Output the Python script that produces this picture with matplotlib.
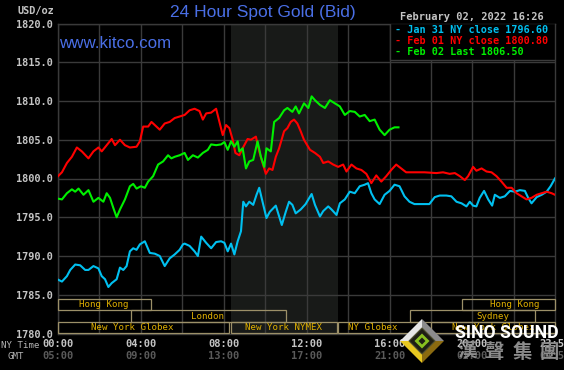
import matplotlib
matplotlib.use("Agg")
import matplotlib.pyplot as plt
from matplotlib.patches import Rectangle, Polygon
import matplotlib.transforms as mtrans

# ---------------- data (hours of NY time, USD/oz) ----------------
jan31_hours = [0.00, 0.19, 0.43, 0.59, 0.83, 1.07, 1.31, 1.47, 1.71, 1.95, 2.11, 2.27, 2.43, 2.59, 2.83,
               2.99, 3.15, 3.31, 3.47, 3.63, 3.79, 3.95, 4.19, 4.43, 4.67, 4.91, 5.15, 5.39, 5.63, 5.87,
               6.03, 6.11, 6.35, 6.59, 6.75, 6.91, 7.15, 7.39, 7.63, 7.87, 8.03, 8.19, 8.35, 8.51, 8.67,
               8.83, 8.94, 9.07, 9.23, 9.42, 9.58, 9.71, 9.87, 10.06, 10.22, 10.51, 10.80, 10.99, 11.15,
               11.31, 11.47, 11.71, 11.95, 12.08, 12.24, 12.40, 12.64, 12.80, 13.04, 13.20, 13.44, 13.60,
               13.84, 14.08, 14.32, 14.56, 14.80, 14.96, 15.12, 15.28, 15.52, 15.76, 16.00, 16.24, 16.48,
               16.72, 16.96, 17.20, 17.52, 17.92, 18.18, 18.42, 18.74, 18.98, 19.23, 19.47, 19.71, 19.87,
               20.03, 20.19, 20.35, 20.56, 20.76, 20.95, 21.08, 21.32, 21.56, 21.81, 22.05, 22.29, 22.53,
               22.69, 22.85, 23.10, 23.34, 23.58, 23.77, 23.98]
jan31_values = [1786.95, 1786.7, 1787.4, 1788.2, 1788.9, 1788.8, 1788.2, 1788.2, 1788.7, 1788.4, 1787.4,
                1787.0, 1786.0, 1786.5, 1787.0, 1788.5, 1788.2, 1788.7, 1790.6, 1791.0, 1790.8, 1791.5,
                1791.9, 1790.4, 1790.3, 1790.0, 1788.7, 1789.7, 1790.2, 1790.8, 1791.5, 1791.6, 1791.3,
                1790.6, 1790.0, 1792.5, 1791.7, 1791.0, 1791.8, 1791.9, 1791.7, 1790.6, 1791.6, 1790.2,
                1791.9, 1793.2, 1797.0, 1796.4, 1797.0, 1796.6, 1797.9, 1798.8, 1797.0, 1794.9, 1795.7,
                1796.5, 1794.0, 1795.7, 1797.0, 1796.6, 1795.5, 1796.0, 1796.7, 1797.3, 1798.0, 1796.6,
                1795.1, 1795.8, 1796.4, 1796.0, 1795.3, 1796.8, 1797.3, 1798.3, 1798.1, 1799.0, 1799.2,
                1799.4, 1798.1, 1797.3, 1796.7, 1797.9, 1798.4, 1799.2, 1799.0, 1797.7, 1797.0, 1796.7,
                1796.7, 1796.7, 1797.6, 1797.8, 1797.8, 1797.7, 1797.0, 1796.8, 1796.4, 1797.0, 1796.5,
                1796.4, 1797.5, 1798.4, 1797.3, 1796.5, 1797.9, 1797.5, 1797.7, 1798.4, 1798.3, 1798.5,
                1798.4, 1797.5, 1796.8, 1797.6, 1797.9, 1798.3, 1799.0, 1800.0]

feb01_hours = [0.00, 0.19, 0.43, 0.67, 0.91, 1.15, 1.47, 1.71, 1.95, 2.11, 2.35, 2.59, 2.75, 2.99, 3.23,
               3.47, 3.79, 3.95, 4.11, 4.35, 4.51, 4.67, 4.91, 5.15, 5.39, 5.63, 5.87, 6.11, 6.35, 6.59,
               6.83, 6.99, 7.15, 7.39, 7.63, 7.79, 7.95, 8.11, 8.27, 8.43, 8.56, 8.75, 8.91, 9.15, 9.31,
               9.55, 9.71, 9.87, 10.03, 10.19, 10.35, 10.51, 10.67, 10.91, 11.07, 11.23, 11.39, 11.55,
               11.71, 11.87, 12.16, 12.40, 12.64, 12.80, 13.04, 13.28, 13.52, 13.76, 13.92, 14.16, 14.40,
               14.64, 14.88, 15.12, 15.36, 15.60, 15.84, 16.08, 16.32, 16.56, 16.80, 17.20, 17.68, 18.26,
               18.58, 18.90, 19.15, 19.39, 19.63, 19.79, 20.03, 20.19, 20.44, 20.68, 20.92, 21.16, 21.40,
               21.65, 21.89, 22.13, 22.37, 22.61, 22.85, 23.10, 23.34, 23.58, 23.82, 23.98]
feb01_values = [1800.3, 1800.8, 1802.0, 1802.8, 1804.0, 1803.5, 1802.6, 1803.5, 1804.0, 1803.5, 1804.3,
                1805.1, 1804.3, 1805.0, 1804.3, 1804.0, 1804.1, 1804.8, 1806.7, 1806.7, 1807.3, 1806.9,
                1806.3, 1807.1, 1807.3, 1807.8, 1808.0, 1808.2, 1808.8, 1809.0, 1808.7, 1807.6, 1808.4,
                1808.5, 1809.0, 1807.3, 1805.6, 1806.9, 1806.5, 1805.0, 1803.3, 1803.0, 1803.9, 1805.1,
                1805.0, 1805.4, 1803.5, 1802.0, 1800.6, 1801.3, 1801.1, 1802.8, 1803.9, 1806.1, 1806.5,
                1807.3, 1807.6, 1807.1, 1806.1, 1805.0, 1803.7, 1803.3, 1802.8, 1802.0, 1802.2, 1801.8,
                1801.5, 1801.8, 1800.9, 1801.8, 1801.3, 1801.1, 1800.6, 1799.4, 1800.4, 1799.6, 1800.3,
                1801.1, 1801.8, 1801.3, 1800.8, 1800.8, 1800.8, 1800.7, 1800.8, 1800.6, 1800.7, 1800.3,
                1799.8, 1800.3, 1801.5, 1801.0, 1801.3, 1800.9, 1800.8, 1800.3, 1799.6, 1798.8, 1798.8,
                1798.1, 1797.7, 1797.3, 1797.5, 1797.9, 1798.1, 1798.3, 1798.1, 1797.9]

feb02_hours = [0.00, 0.19, 0.43, 0.67, 0.83, 0.99, 1.23, 1.47, 1.71, 1.95, 2.19, 2.35, 2.51, 2.67, 2.83,
               2.99, 3.23, 3.47, 3.63, 3.79, 4.00, 4.19, 4.35, 4.59, 4.83, 5.07, 5.31, 5.47, 5.63, 5.87,
               6.11, 6.27, 6.51, 6.75, 6.99, 7.23, 7.39, 7.63, 7.87, 8.03, 8.19, 8.35, 8.51, 8.67, 8.75,
               8.91, 9.07, 9.23, 9.42, 9.63, 9.79, 9.95, 10.06, 10.27, 10.43, 10.67, 10.91, 11.07, 11.31,
               11.47, 11.63, 11.87, 12.08, 12.24, 12.40, 12.64, 12.88, 13.12, 13.36, 13.60, 13.84, 14.08,
               14.32, 14.56, 14.80, 15.04, 15.28, 15.52, 15.76, 16.00, 16.24, 16.43]
feb02_values = [1797.4, 1797.3, 1798.1, 1798.6, 1798.3, 1798.7, 1797.9, 1798.5, 1797.0, 1797.5, 1797.0,
                1798.1, 1797.5, 1796.2, 1795.0, 1796.0, 1797.3, 1799.0, 1799.3, 1798.7, 1799.0, 1798.8,
                1799.6, 1800.3, 1801.8, 1802.2, 1803.0, 1802.6, 1802.8, 1803.0, 1803.3, 1802.4, 1803.0,
                1802.7, 1803.3, 1803.7, 1804.4, 1804.3, 1804.4, 1804.7, 1803.7, 1804.8, 1804.1, 1804.8,
                1803.5, 1803.9, 1801.3, 1802.2, 1802.4, 1804.8, 1802.8, 1801.5, 1803.9, 1803.5, 1807.3,
                1807.8, 1808.8, 1809.1, 1808.6, 1809.3, 1808.4, 1809.7, 1809.1, 1810.6, 1810.1, 1809.5,
                1809.1, 1810.1, 1809.7, 1809.3, 1808.2, 1808.7, 1808.6, 1808.0, 1808.2, 1807.4, 1807.6,
                1806.3, 1805.6, 1806.3, 1806.6, 1806.6]

legend_labels = ["- Jan 31 NY close 1796.60", "- Feb 01 NY close 1800.80", "- Feb 02 Last 1806.50"]

y_ticks = [1780, 1785, 1790, 1795, 1800, 1805, 1810, 1815, 1820]
ny_tick_hours = [0, 4, 8, 12, 16, 20, 23.983]
ny_tick_labels = ["00:00", "04:00", "08:00", "12:00", "16:00", "20:00", "23:59"]
gmt_tick_labels = ["05:00", "09:00", "13:00", "17:00", "21:00", "01:00", "04:59"]

nymex_start, nymex_end = 8.333, 13.5

session_names = ["Hong Kong", "Hong Kong", "London", "Sydney",
                 "New York Globex", "New York NYMEX", "NY Globex", "New York Globex"]
session_start = [0.0, 19.5, 3.5, 17.0, 0.0, 8.333, 13.5, 18.0]
session_end = [4.5, 23.983, 11.0, 23.0, 8.27, 13.48, 17.5, 23.983]
session_row = [0, 0, 1, 1, 2, 2, 2, 2]

# ---------------- styling ----------------
BG = "#000000"
GRID = "#3a3a3a"
CYAN = "#00c0f0"
RED = "#ff0000"
GREEN = "#00f000"
MONO = "DejaVu Sans Mono"

fig = plt.figure(figsize=(5.64, 3.70), dpi=100, facecolor=BG)
W, H = 564, 370
ax_l, ax_r, ax_t, ax_b = 58, 555, 23.5, 333.5
ax = fig.add_axes([ax_l / W, 1 - ax_b / H, (ax_r - ax_l) / W, (ax_b - ax_t) / H])
ax.set_facecolor(BG)
ax.set_xlim(0, 23.983)
ax.set_ylim(1780, 1820)

ax.axvspan(nymex_start, nymex_end, color="#181a18", zorder=0, lw=0)

ax.set_xticks([0, 2, 4, 6, 8, 10, 12, 14, 16, 18, 20, 22])
ax.set_xticklabels([])
ax.set_yticks(y_ticks)
ax.set_yticklabels([f"{v:.1f}" for v in y_ticks], fontfamily=MONO, fontweight="bold",
                   fontsize=7.4, color="#c4c4c4")
ax.tick_params(axis="both", length=0, pad=4)
ax.grid(True, color=GRID, lw=1.0, zorder=1)
ax.set_axisbelow(True)
for s in ax.spines.values():
    s.set_color(GRID)
    s.set_linewidth(1.0)

ax.plot(jan31_hours, jan31_values, color=CYAN, lw=1.5, zorder=3)
ax.plot(feb01_hours, feb01_values, color=RED, lw=1.5, zorder=4)
ax.plot(feb02_hours, feb02_values, color=GREEN, lw=1.5, zorder=5)

# session boxes
row_bounds = [(1783.0, 1784.45), (1781.5, 1783.0), (1780.05, 1781.5)]
text_hours = [2.2, 22.05, 7.2, 20.97, 3.6, 10.9, 15.2, 21.0]
for name, s0, s1, r, th in zip(session_names, session_start, session_end, session_row, text_hours):
    lo, hi = row_bounds[r]
    ax.add_patch(Rectangle((s0, lo), s1 - s0, hi - lo, fill=False, edgecolor="#9c9068",
                           lw=0.9, zorder=6, clip_on=False))
    ax.text(th, (lo + hi) / 2, name, color="#e0b000", fontsize=6.6, fontfamily=MONO,
            ha="center", va="center", zorder=7)

# legend box
ax.add_patch(Rectangle((0.6686, 0.883), 0.3314, 0.117, transform=ax.transAxes,
                       facecolor=BG, edgecolor=GRID, lw=1.0, zorder=8))

# x tick labels (two rows)
trans = mtrans.blended_transform_factory(ax.transData, fig.transFigure)
for h, l1, l2 in zip(ny_tick_hours, ny_tick_labels, gmt_tick_labels):
    ax.text(h, 1 - 343.7 / H, l1, transform=trans, ha="center", va="center", fontsize=7.5,
            fontfamily=MONO, fontweight="bold", color="#c4c4c4", clip_on=False)
    ax.text(h, 1 - 356.3 / H, l2, transform=trans, ha="center", va="center", fontsize=7.5,
            fontfamily=MONO, fontweight="bold", color="#5a5a5a", clip_on=False)

# ---------------- overlay in pixel coordinates ----------------
ov = fig.add_axes([0, 0, 1, 1], facecolor="none")
ov.set_xlim(0, W)
ov.set_ylim(H, 0)
ov.axis("off")

ov.text(263, 13, "24 Hour Spot Gold (Bid)", color="#4a6fe6", fontsize=12.5,
        fontfamily="Liberation Sans", ha="center", va="center")
ov.text(59, 43.5, "www.kitco.com", color="#4a6fe6", fontsize=12.2,
        fontfamily="Liberation Sans", ha="left", va="center")
ov.text(17, 11, "USD/oz", color="#c4c4c4", fontsize=7.4, fontfamily=MONO, fontweight="bold",
        ha="left", va="center")
ov.text(400, 16.5, "February 02, 2022 16:26", color="#c4c4c4", fontsize=7.5, fontfamily=MONO,
        fontweight="bold", ha="left", va="center")
for y, lab, c in zip([30, 40.7, 52.3], legend_labels, [CYAN, RED, GREEN]):
    ov.text(395, y, lab, color=c, fontsize=7.3, fontfamily=MONO, fontweight="bold",
            ha="left", va="center", zorder=10)
ov.text(1, 346, "NY Time", color="#b4b4b4", fontsize=6.6, fontfamily=MONO, ha="left", va="center")
ov.text(8, 356.5, "GMT", color="#b4b4b4", fontsize=6.6, fontfamily=MONO, ha="left", va="center")

# watermark logo
cx, cy, R, r = 422, 341, 22, 13
top, right, bot, left = (cx, cy - R), (cx + R, cy), (cx, cy + R), (cx - R, cy)
itop, iright, ibot, ileft = (cx, cy - r), (cx + r, cy), (cx, cy + r), (cx - r, cy)
faces = [([left, top, itop, ileft], "#e6e6e6"),
         ([top, right, iright, itop], "#8c8c8c"),
         ([left, bot, ibot, ileft], "#e8c820"),
         ([bot, right, iright, ibot], "#8a6a10")]
for pts, c in faces:
    ov.add_patch(Polygon(pts, closed=True, facecolor=c, edgecolor="none", zorder=20))
ov.add_patch(Polygon([itop, iright, ibot, ileft], closed=True, facecolor="#1e1e14",
                     edgecolor="#505030", lw=0.8, zorder=21))
g1, g2 = 7.5, 3.5
ov.add_patch(Polygon([(cx, cy - g1), (cx + g1, cy), (cx, cy + g1), (cx - g1, cy)], closed=True,
                     facecolor="#88c020", edgecolor="none", zorder=22))
ov.add_patch(Polygon([(cx, cy - g2), (cx + g2, cy), (cx, cy + g2), (cx - g2, cy)], closed=True,
                     facecolor="#1e1e14", edgecolor="none", zorder=23))
ov.text(507, 333.5, "SINO SOUND", color="white", fontsize=12.7, fontfamily="Roboto",
        fontweight="bold", ha="center", va="center", zorder=24)
for x, ch in zip([467, 494, 522, 549], "漢聲集團"):
    ov.text(x, 352, ch, color="#8c8c8c", fontsize=14, fontfamily="Noto Sans CJK TC",
            fontweight="bold", ha="center", va="center", zorder=24)

fig.savefig("out.png", dpi=100, facecolor=BG)
